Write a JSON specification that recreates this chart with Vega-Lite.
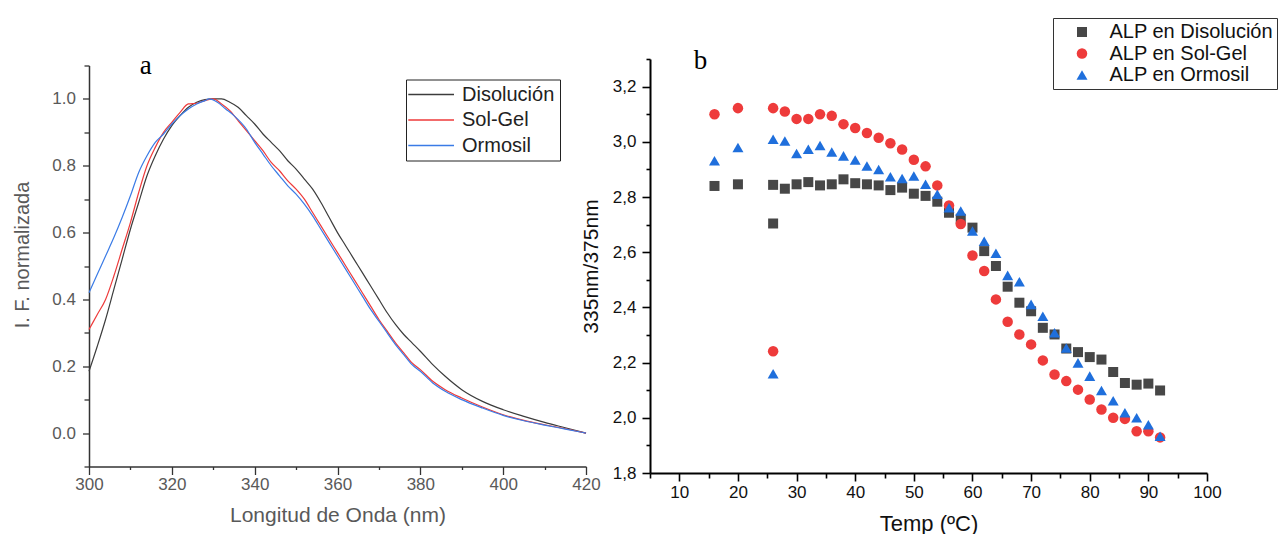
{
  "$schema": "https://vega.github.io/schema/vega-lite/v6.json",
  "padding": {"left": 12, "top": 17, "right": 0, "bottom": 0},
  "background": "white",
  "config": {
    "view": {"stroke": null},
    "font": "Liberation Sans",
    "axis": {"grid": false, "labelFont": "Liberation Sans", "titleFont": "Liberation Sans", "titleFontWeight": "normal"},
    "legend": {"labelFont": "Liberation Sans"}
  },
  "hconcat": [
    {
      "width": 497,
      "height": 401,
      "resolve": {"axis": {"x": "independent", "y": "independent"}},
      "layer": [
        {
          "data": {"values": [
            {"serie": "Disolución", "nm": 300, "v": 0.185}, {"serie": "Disolución", "nm": 302, "v": 0.26}, {"serie": "Disolución", "nm": 304, "v": 0.34}, {"serie": "Disolución", "nm": 306, "v": 0.43}, {"serie": "Disolución", "nm": 308, "v": 0.52}, {"serie": "Disolución", "nm": 310, "v": 0.61}, {"serie": "Disolución", "nm": 312, "v": 0.69}, {"serie": "Disolución", "nm": 314, "v": 0.77}, {"serie": "Disolución", "nm": 316, "v": 0.83}, {"serie": "Disolución", "nm": 318, "v": 0.88}, {"serie": "Disolución", "nm": 320, "v": 0.92}, {"serie": "Disolución", "nm": 322, "v": 0.95}, {"serie": "Disolución", "nm": 324, "v": 0.975}, {"serie": "Disolución", "nm": 326, "v": 0.99}, {"serie": "Disolución", "nm": 328, "v": 0.998}, {"serie": "Disolución", "nm": 330, "v": 1.0}, {"serie": "Disolución", "nm": 332, "v": 1.0}, {"serie": "Disolución", "nm": 334, "v": 0.99}, {"serie": "Disolución", "nm": 336, "v": 0.975}, {"serie": "Disolución", "nm": 338, "v": 0.95}, {"serie": "Disolución", "nm": 340, "v": 0.925}, {"serie": "Disolución", "nm": 342, "v": 0.895}, {"serie": "Disolución", "nm": 344, "v": 0.87}, {"serie": "Disolución", "nm": 346, "v": 0.845}, {"serie": "Disolución", "nm": 348, "v": 0.815}, {"serie": "Disolución", "nm": 350, "v": 0.79}, {"serie": "Disolución", "nm": 352, "v": 0.76}, {"serie": "Disolución", "nm": 354, "v": 0.73}, {"serie": "Disolución", "nm": 356, "v": 0.69}, {"serie": "Disolución", "nm": 358, "v": 0.645}, {"serie": "Disolución", "nm": 360, "v": 0.6}, {"serie": "Disolución", "nm": 362, "v": 0.56}, {"serie": "Disolución", "nm": 364, "v": 0.52}, {"serie": "Disolución", "nm": 366, "v": 0.48}, {"serie": "Disolución", "nm": 368, "v": 0.44}, {"serie": "Disolución", "nm": 370, "v": 0.4}, {"serie": "Disolución", "nm": 372, "v": 0.36}, {"serie": "Disolución", "nm": 374, "v": 0.325}, {"serie": "Disolución", "nm": 376, "v": 0.295}, {"serie": "Disolución", "nm": 378, "v": 0.27}, {"serie": "Disolución", "nm": 380, "v": 0.245}, {"serie": "Disolución", "nm": 383, "v": 0.205}, {"serie": "Disolución", "nm": 386, "v": 0.17}, {"serie": "Disolución", "nm": 390, "v": 0.13}, {"serie": "Disolución", "nm": 395, "v": 0.095}, {"serie": "Disolución", "nm": 400, "v": 0.07}, {"serie": "Disolución", "nm": 405, "v": 0.05}, {"serie": "Disolución", "nm": 410, "v": 0.032}, {"serie": "Disolución", "nm": 415, "v": 0.016}, {"serie": "Disolución", "nm": 420, "v": 0.0},
            {"serie": "Sol-Gel", "nm": 300, "v": 0.31}, {"serie": "Sol-Gel", "nm": 302, "v": 0.355}, {"serie": "Sol-Gel", "nm": 304, "v": 0.4}, {"serie": "Sol-Gel", "nm": 306, "v": 0.47}, {"serie": "Sol-Gel", "nm": 308, "v": 0.55}, {"serie": "Sol-Gel", "nm": 310, "v": 0.63}, {"serie": "Sol-Gel", "nm": 312, "v": 0.72}, {"serie": "Sol-Gel", "nm": 314, "v": 0.8}, {"serie": "Sol-Gel", "nm": 316, "v": 0.855}, {"serie": "Sol-Gel", "nm": 318, "v": 0.9}, {"serie": "Sol-Gel", "nm": 320, "v": 0.93}, {"serie": "Sol-Gel", "nm": 322, "v": 0.96}, {"serie": "Sol-Gel", "nm": 324, "v": 0.985}, {"serie": "Sol-Gel", "nm": 326, "v": 0.987}, {"serie": "Sol-Gel", "nm": 328, "v": 0.995}, {"serie": "Sol-Gel", "nm": 330, "v": 1.0}, {"serie": "Sol-Gel", "nm": 332, "v": 0.985}, {"serie": "Sol-Gel", "nm": 334, "v": 0.965}, {"serie": "Sol-Gel", "nm": 336, "v": 0.935}, {"serie": "Sol-Gel", "nm": 338, "v": 0.905}, {"serie": "Sol-Gel", "nm": 340, "v": 0.875}, {"serie": "Sol-Gel", "nm": 342, "v": 0.845}, {"serie": "Sol-Gel", "nm": 344, "v": 0.81}, {"serie": "Sol-Gel", "nm": 346, "v": 0.785}, {"serie": "Sol-Gel", "nm": 348, "v": 0.755}, {"serie": "Sol-Gel", "nm": 350, "v": 0.73}, {"serie": "Sol-Gel", "nm": 352, "v": 0.7}, {"serie": "Sol-Gel", "nm": 354, "v": 0.66}, {"serie": "Sol-Gel", "nm": 356, "v": 0.62}, {"serie": "Sol-Gel", "nm": 358, "v": 0.58}, {"serie": "Sol-Gel", "nm": 360, "v": 0.54}, {"serie": "Sol-Gel", "nm": 362, "v": 0.5}, {"serie": "Sol-Gel", "nm": 364, "v": 0.46}, {"serie": "Sol-Gel", "nm": 366, "v": 0.42}, {"serie": "Sol-Gel", "nm": 368, "v": 0.38}, {"serie": "Sol-Gel", "nm": 370, "v": 0.34}, {"serie": "Sol-Gel", "nm": 372, "v": 0.305}, {"serie": "Sol-Gel", "nm": 374, "v": 0.27}, {"serie": "Sol-Gel", "nm": 376, "v": 0.24}, {"serie": "Sol-Gel", "nm": 378, "v": 0.21}, {"serie": "Sol-Gel", "nm": 380, "v": 0.19}, {"serie": "Sol-Gel", "nm": 383, "v": 0.155}, {"serie": "Sol-Gel", "nm": 386, "v": 0.13}, {"serie": "Sol-Gel", "nm": 390, "v": 0.105}, {"serie": "Sol-Gel", "nm": 395, "v": 0.078}, {"serie": "Sol-Gel", "nm": 400, "v": 0.055}, {"serie": "Sol-Gel", "nm": 405, "v": 0.038}, {"serie": "Sol-Gel", "nm": 410, "v": 0.025}, {"serie": "Sol-Gel", "nm": 415, "v": 0.013}, {"serie": "Sol-Gel", "nm": 420, "v": 0.0},
            {"serie": "Ormosil", "nm": 300, "v": 0.42}, {"serie": "Ormosil", "nm": 302, "v": 0.475}, {"serie": "Ormosil", "nm": 304, "v": 0.53}, {"serie": "Ormosil", "nm": 306, "v": 0.585}, {"serie": "Ormosil", "nm": 308, "v": 0.645}, {"serie": "Ormosil", "nm": 310, "v": 0.71}, {"serie": "Ormosil", "nm": 312, "v": 0.78}, {"serie": "Ormosil", "nm": 314, "v": 0.83}, {"serie": "Ormosil", "nm": 316, "v": 0.87}, {"serie": "Ormosil", "nm": 318, "v": 0.895}, {"serie": "Ormosil", "nm": 320, "v": 0.925}, {"serie": "Ormosil", "nm": 322, "v": 0.95}, {"serie": "Ormosil", "nm": 324, "v": 0.97}, {"serie": "Ormosil", "nm": 326, "v": 0.985}, {"serie": "Ormosil", "nm": 328, "v": 0.995}, {"serie": "Ormosil", "nm": 329, "v": 1.0}, {"serie": "Ormosil", "nm": 331, "v": 0.99}, {"serie": "Ormosil", "nm": 333, "v": 0.97}, {"serie": "Ormosil", "nm": 335, "v": 0.95}, {"serie": "Ormosil", "nm": 338, "v": 0.91}, {"serie": "Ormosil", "nm": 340, "v": 0.87}, {"serie": "Ormosil", "nm": 342, "v": 0.835}, {"serie": "Ormosil", "nm": 344, "v": 0.8}, {"serie": "Ormosil", "nm": 346, "v": 0.77}, {"serie": "Ormosil", "nm": 348, "v": 0.74}, {"serie": "Ormosil", "nm": 350, "v": 0.715}, {"serie": "Ormosil", "nm": 352, "v": 0.685}, {"serie": "Ormosil", "nm": 354, "v": 0.65}, {"serie": "Ormosil", "nm": 356, "v": 0.61}, {"serie": "Ormosil", "nm": 358, "v": 0.57}, {"serie": "Ormosil", "nm": 360, "v": 0.53}, {"serie": "Ormosil", "nm": 362, "v": 0.49}, {"serie": "Ormosil", "nm": 364, "v": 0.45}, {"serie": "Ormosil", "nm": 366, "v": 0.41}, {"serie": "Ormosil", "nm": 368, "v": 0.37}, {"serie": "Ormosil", "nm": 370, "v": 0.335}, {"serie": "Ormosil", "nm": 372, "v": 0.3}, {"serie": "Ormosil", "nm": 374, "v": 0.265}, {"serie": "Ormosil", "nm": 376, "v": 0.235}, {"serie": "Ormosil", "nm": 378, "v": 0.205}, {"serie": "Ormosil", "nm": 380, "v": 0.185}, {"serie": "Ormosil", "nm": 383, "v": 0.15}, {"serie": "Ormosil", "nm": 386, "v": 0.125}, {"serie": "Ormosil", "nm": 390, "v": 0.1}, {"serie": "Ormosil", "nm": 395, "v": 0.075}, {"serie": "Ormosil", "nm": 400, "v": 0.053}, {"serie": "Ormosil", "nm": 405, "v": 0.037}, {"serie": "Ormosil", "nm": 410, "v": 0.024}, {"serie": "Ormosil", "nm": 415, "v": 0.012}, {"serie": "Ormosil", "nm": 420, "v": 0.0}
          ]},
          "mark": {"type": "line", "strokeWidth": 1.2, "interpolate": "monotone"},
          "encoding": {
            "x": {
              "field": "nm", "type": "quantitative",
              "scale": {"domain": [300, 420], "nice": false, "zero": false},
              "axis": {
                "orient": "bottom",
                "values": [300, 320, 340, 360, 380, 400, 420], "format": "d",
                "tickSize": 8,
                "domainColor": "#333", "domainWidth": 1.5, "tickColor": "#333", "tickWidth": 1.3,
                "labelFontSize": 17, "labelColor": "#595959", "labelPadding": 2, "labelFlush": false, "labelOverlap": false,
                "title": "Longitud de Onda (nm)", "titleFontSize": 21, "titleColor": "#595959",
                "titleX": 248.5, "titleY": 49, "titleAlign": "center", "titleBaseline": "middle"
              }
            },
            "y": {
              "field": "v", "type": "quantitative",
              "scale": {"domain": [-0.1, 1.1], "nice": false, "zero": false},
              "axis": {
                "orient": "left",
                "values": [0, 0.2, 0.4, 0.6, 0.8, 1.0], "format": ".1f",
                "tickSize": 6.5,
                "domainColor": "#333", "domainWidth": 1.5, "tickColor": "#333", "tickWidth": 1.3,
                "labelFontSize": 17, "labelColor": "#595959", "labelPadding": 7, "labelOverlap": false,
                "title": "I. F. normalizada", "titleFontSize": 20, "titleColor": "#595959",
                "titleX": -66.5, "titleY": 189, "titleAngle": 270, "titleAlign": "center", "titleBaseline": "middle"
              }
            },
            "color": {
              "field": "serie", "type": "nominal",
              "scale": {"domain": ["Disolución", "Sol-Gel", "Ormosil"], "range": ["#3c3c3c", "#ee3a3a", "#3a7be6"]},
              "legend": {
                "title": null, "orient": "none", "legendX": 317, "legendY": 14,
                "strokeColor": "#222", "padding": 5, "rowPadding": 5.5,
                "symbolType": "M-2.12,0H5.5", "symbolSize": 144, "symbolStrokeWidth": 1.3,
                "labelFontSize": 20, "labelColor": "#222", "labelOffset": 31, "labelLimit": 400
              }
            }
          }
        },
        {
          "data": {"values": [{"nm": 313.7, "v": 1.1, "t": "a"}]},
          "mark": {"type": "text", "font": "Liberation Serif", "fontSize": 27, "color": "#000"},
          "encoding": {
            "x": {
              "field": "nm", "type": "quantitative",
              "axis": {"orient": "bottom", "values": [310, 330, 350, 370, 390, 410], "labels": false, "domain": false, "title": null, "tickSize": 3, "tickColor": "#333", "tickWidth": 1.3}
            },
            "y": {
              "field": "v", "type": "quantitative",
              "axis": {"orient": "left", "values": [-0.1, 0.1, 0.3, 0.5, 0.7, 0.9, 1.1], "labels": false, "domain": false, "title": null, "tickSize": 5, "tickColor": "#333", "tickWidth": 1.3}
            },
            "text": {"field": "t"}
          }
        }
      ]
    },
    {
      "width": 557,
      "height": 414,
      "resolve": {"axis": {"x": "independent", "y": "independent"}},
      "layer": [
        {
          "data": {"values": [
            {"muestra": "ALP en Disolución", "temp": 16, "ratio": 2.84}, {"muestra": "ALP en Disolución", "temp": 20, "ratio": 2.846}, {"muestra": "ALP en Disolución", "temp": 26, "ratio": 2.844}, {"muestra": "ALP en Disolución", "temp": 26, "ratio": 2.704}, {"muestra": "ALP en Disolución", "temp": 28, "ratio": 2.83}, {"muestra": "ALP en Disolución", "temp": 30, "ratio": 2.846}, {"muestra": "ALP en Disolución", "temp": 32, "ratio": 2.854}, {"muestra": "ALP en Disolución", "temp": 34, "ratio": 2.842}, {"muestra": "ALP en Disolución", "temp": 36, "ratio": 2.846}, {"muestra": "ALP en Disolución", "temp": 38, "ratio": 2.864}, {"muestra": "ALP en Disolución", "temp": 40, "ratio": 2.85}, {"muestra": "ALP en Disolución", "temp": 42, "ratio": 2.846}, {"muestra": "ALP en Disolución", "temp": 44, "ratio": 2.842}, {"muestra": "ALP en Disolución", "temp": 46, "ratio": 2.825}, {"muestra": "ALP en Disolución", "temp": 48, "ratio": 2.834}, {"muestra": "ALP en Disolución", "temp": 50, "ratio": 2.812}, {"muestra": "ALP en Disolución", "temp": 52, "ratio": 2.804}, {"muestra": "ALP en Disolución", "temp": 54, "ratio": 2.783}, {"muestra": "ALP en Disolución", "temp": 56, "ratio": 2.743}, {"muestra": "ALP en Disolución", "temp": 58, "ratio": 2.721}, {"muestra": "ALP en Disolución", "temp": 60, "ratio": 2.689}, {"muestra": "ALP en Disolución", "temp": 62, "ratio": 2.604}, {"muestra": "ALP en Disolución", "temp": 64, "ratio": 2.55}, {"muestra": "ALP en Disolución", "temp": 66, "ratio": 2.475}, {"muestra": "ALP en Disolución", "temp": 68, "ratio": 2.417}, {"muestra": "ALP en Disolución", "temp": 70, "ratio": 2.386}, {"muestra": "ALP en Disolución", "temp": 72, "ratio": 2.326}, {"muestra": "ALP en Disolución", "temp": 74, "ratio": 2.302}, {"muestra": "ALP en Disolución", "temp": 76, "ratio": 2.251}, {"muestra": "ALP en Disolución", "temp": 78, "ratio": 2.238}, {"muestra": "ALP en Disolución", "temp": 80, "ratio": 2.22}, {"muestra": "ALP en Disolución", "temp": 82, "ratio": 2.211}, {"muestra": "ALP en Disolución", "temp": 84, "ratio": 2.166}, {"muestra": "ALP en Disolución", "temp": 86, "ratio": 2.126}, {"muestra": "ALP en Disolución", "temp": 88, "ratio": 2.12}, {"muestra": "ALP en Disolución", "temp": 90, "ratio": 2.124}, {"muestra": "ALP en Disolución", "temp": 92, "ratio": 2.099},
            {"muestra": "ALP en Sol-Gel", "temp": 16, "ratio": 3.1}, {"muestra": "ALP en Sol-Gel", "temp": 20, "ratio": 3.122}, {"muestra": "ALP en Sol-Gel", "temp": 26, "ratio": 3.122}, {"muestra": "ALP en Sol-Gel", "temp": 26, "ratio": 2.241}, {"muestra": "ALP en Sol-Gel", "temp": 28, "ratio": 3.11}, {"muestra": "ALP en Sol-Gel", "temp": 30, "ratio": 3.083}, {"muestra": "ALP en Sol-Gel", "temp": 32, "ratio": 3.083}, {"muestra": "ALP en Sol-Gel", "temp": 34, "ratio": 3.1}, {"muestra": "ALP en Sol-Gel", "temp": 36, "ratio": 3.094}, {"muestra": "ALP en Sol-Gel", "temp": 38, "ratio": 3.064}, {"muestra": "ALP en Sol-Gel", "temp": 40, "ratio": 3.05}, {"muestra": "ALP en Sol-Gel", "temp": 42, "ratio": 3.032}, {"muestra": "ALP en Sol-Gel", "temp": 44, "ratio": 3.015}, {"muestra": "ALP en Sol-Gel", "temp": 46, "ratio": 2.995}, {"muestra": "ALP en Sol-Gel", "temp": 48, "ratio": 2.972}, {"muestra": "ALP en Sol-Gel", "temp": 50, "ratio": 2.935}, {"muestra": "ALP en Sol-Gel", "temp": 52, "ratio": 2.911}, {"muestra": "ALP en Sol-Gel", "temp": 54, "ratio": 2.842}, {"muestra": "ALP en Sol-Gel", "temp": 56, "ratio": 2.769}, {"muestra": "ALP en Sol-Gel", "temp": 58, "ratio": 2.702}, {"muestra": "ALP en Sol-Gel", "temp": 60, "ratio": 2.588}, {"muestra": "ALP en Sol-Gel", "temp": 62, "ratio": 2.532}, {"muestra": "ALP en Sol-Gel", "temp": 64, "ratio": 2.429}, {"muestra": "ALP en Sol-Gel", "temp": 66, "ratio": 2.348}, {"muestra": "ALP en Sol-Gel", "temp": 68, "ratio": 2.302}, {"muestra": "ALP en Sol-Gel", "temp": 70, "ratio": 2.266}, {"muestra": "ALP en Sol-Gel", "temp": 72, "ratio": 2.208}, {"muestra": "ALP en Sol-Gel", "temp": 74, "ratio": 2.157}, {"muestra": "ALP en Sol-Gel", "temp": 76, "ratio": 2.133}, {"muestra": "ALP en Sol-Gel", "temp": 78, "ratio": 2.102}, {"muestra": "ALP en Sol-Gel", "temp": 80, "ratio": 2.066}, {"muestra": "ALP en Sol-Gel", "temp": 82, "ratio": 2.03}, {"muestra": "ALP en Sol-Gel", "temp": 84, "ratio": 2.0}, {"muestra": "ALP en Sol-Gel", "temp": 86, "ratio": 1.996}, {"muestra": "ALP en Sol-Gel", "temp": 88, "ratio": 1.951}, {"muestra": "ALP en Sol-Gel", "temp": 90, "ratio": 1.951}, {"muestra": "ALP en Sol-Gel", "temp": 92, "ratio": 1.929},
            {"muestra": "ALP en Ormosil", "temp": 16, "ratio": 2.931}, {"muestra": "ALP en Ormosil", "temp": 20, "ratio": 2.979}, {"muestra": "ALP en Ormosil", "temp": 26, "ratio": 3.009}, {"muestra": "ALP en Ormosil", "temp": 26, "ratio": 2.16}, {"muestra": "ALP en Ormosil", "temp": 28, "ratio": 3.003}, {"muestra": "ALP en Ormosil", "temp": 30, "ratio": 2.958}, {"muestra": "ALP en Ormosil", "temp": 32, "ratio": 2.973}, {"muestra": "ALP en Ormosil", "temp": 34, "ratio": 2.987}, {"muestra": "ALP en Ormosil", "temp": 36, "ratio": 2.963}, {"muestra": "ALP en Ormosil", "temp": 38, "ratio": 2.949}, {"muestra": "ALP en Ormosil", "temp": 40, "ratio": 2.934}, {"muestra": "ALP en Ormosil", "temp": 42, "ratio": 2.912}, {"muestra": "ALP en Ormosil", "temp": 44, "ratio": 2.9}, {"muestra": "ALP en Ormosil", "temp": 46, "ratio": 2.873}, {"muestra": "ALP en Ormosil", "temp": 48, "ratio": 2.867}, {"muestra": "ALP en Ormosil", "temp": 50, "ratio": 2.876}, {"muestra": "ALP en Ormosil", "temp": 52, "ratio": 2.846}, {"muestra": "ALP en Ormosil", "temp": 54, "ratio": 2.81}, {"muestra": "ALP en Ormosil", "temp": 56, "ratio": 2.761}, {"muestra": "ALP en Ormosil", "temp": 58, "ratio": 2.749}, {"muestra": "ALP en Ormosil", "temp": 60, "ratio": 2.677}, {"muestra": "ALP en Ormosil", "temp": 62, "ratio": 2.64}, {"muestra": "ALP en Ormosil", "temp": 64, "ratio": 2.596}, {"muestra": "ALP en Ormosil", "temp": 66, "ratio": 2.516}, {"muestra": "ALP en Ormosil", "temp": 68, "ratio": 2.493}, {"muestra": "ALP en Ormosil", "temp": 70, "ratio": 2.411}, {"muestra": "ALP en Ormosil", "temp": 72, "ratio": 2.368}, {"muestra": "ALP en Ormosil", "temp": 74, "ratio": 2.308}, {"muestra": "ALP en Ormosil", "temp": 76, "ratio": 2.253}, {"muestra": "ALP en Ormosil", "temp": 78, "ratio": 2.199}, {"muestra": "ALP en Ormosil", "temp": 80, "ratio": 2.151}, {"muestra": "ALP en Ormosil", "temp": 82, "ratio": 2.099}, {"muestra": "ALP en Ormosil", "temp": 84, "ratio": 2.062}, {"muestra": "ALP en Ormosil", "temp": 86, "ratio": 2.018}, {"muestra": "ALP en Ormosil", "temp": 88, "ratio": 2.0}, {"muestra": "ALP en Ormosil", "temp": 90, "ratio": 1.975}, {"muestra": "ALP en Ormosil", "temp": 92, "ratio": 1.933}
          ]},
          "mark": {"type": "point", "filled": true, "opacity": 1, "strokeWidth": 0},
          "encoding": {
            "x": {
              "field": "temp", "type": "quantitative",
              "scale": {"domain": [5, 100], "nice": false, "zero": false},
              "axis": {
                "orient": "bottom",
                "values": [10, 20, 30, 40, 50, 60, 70, 80, 90, 100], "format": "d",
                "tickSize": 8,
                "domainColor": "#000", "domainWidth": 2, "tickColor": "#000", "tickWidth": 1.6,
                "labelFontSize": 17, "labelColor": "#111", "labelPadding": 3, "labelFlush": false, "labelOverlap": false,
                "title": "Temp (ºC)", "titleFontSize": 22, "titleColor": "#111",
                "titleX": 278.5, "titleY": 50, "titleAlign": "center", "titleBaseline": "middle"
              }
            },
            "y": {
              "field": "ratio", "type": "quantitative",
              "scale": {"domain": [1.8, 3.3], "nice": false, "zero": false},
              "axis": {
                "orient": "left",
                "values": [1.8, 2.0, 2.2, 2.4, 2.6, 2.8, 3.0, 3.2],
                "labelExpr": "replace(format(datum.value, '.1f'), '.', ',')",
                "tickSize": 8,
                "domainColor": "#000", "domainWidth": 2, "tickColor": "#000", "tickWidth": 1.6,
                "labelFontSize": 17, "labelColor": "#111", "labelPadding": 6, "labelOverlap": false,
                "title": "335nm/375nm", "titleFontSize": 21, "titleColor": "#111",
                "titleX": -59, "titleY": 207, "titleAngle": 270, "titleAlign": "center", "titleBaseline": "middle"
              }
            },
            "color": {
              "field": "muestra", "type": "nominal",
              "scale": {"domain": ["ALP en Disolución", "ALP en Sol-Gel", "ALP en Ormosil"], "range": ["#474747", "#ee3b3b", "#1f6fdc"]},
              "legend": {
                "title": null, "orient": "none", "legendX": 403, "legendY": -41,
                "strokeColor": "#333", "padding": 4, "rowPadding": 1.5,
                "symbolSize": 100, "symbolOffset": 15,
                "labelFontSize": 20, "labelColor": "#111", "labelOffset": 17.5, "labelLimit": 400
              }
            },
            "shape": {
              "field": "muestra", "type": "nominal",
              "scale": {"domain": ["ALP en Disolución", "ALP en Sol-Gel", "ALP en Ormosil"], "range": ["square", "circle", "triangle-up"]},
              "legend": {
                "title": null, "orient": "none", "legendX": 403, "legendY": -41,
                "strokeColor": "#333", "padding": 4, "rowPadding": 1.5,
                "symbolSize": 100, "symbolOffset": 15,
                "labelFontSize": 20, "labelColor": "#111", "labelOffset": 17.5, "labelLimit": 400
              }
            },
            "size": {
              "field": "muestra", "type": "nominal",
              "scale": {"domain": ["ALP en Disolución", "ALP en Sol-Gel", "ALP en Ormosil"], "range": [100, 121, 160]},
              "legend": null
            }
          }
        },
        {
          "data": {"values": [{"temp": 13.6, "ratio": 3.293, "t": "b"}]},
          "mark": {"type": "text", "font": "Liberation Serif", "fontSize": 27, "color": "#000"},
          "encoding": {
            "x": {
              "field": "temp", "type": "quantitative",
              "axis": {"orient": "bottom", "values": [5, 15, 25, 35, 45, 55, 65, 75, 85, 95], "labels": false, "domain": false, "title": null, "tickSize": 5, "tickColor": "#000", "tickWidth": 1.6}
            },
            "y": {
              "field": "ratio", "type": "quantitative",
              "axis": {"orient": "left", "values": [1.9, 2.1, 2.3, 2.5, 2.7, 2.9, 3.1, 3.3], "labels": false, "domain": false, "title": null, "tickSize": 4, "tickColor": "#000", "tickWidth": 1.6}
            },
            "text": {"field": "t"}
          }
        }
      ]
    }
  ],
  "spacing": 64,
  "bounds": "flush",
  "center": true,
  "resolve": {"scale": {"color": "independent", "shape": "independent", "size": "independent"}}
}
